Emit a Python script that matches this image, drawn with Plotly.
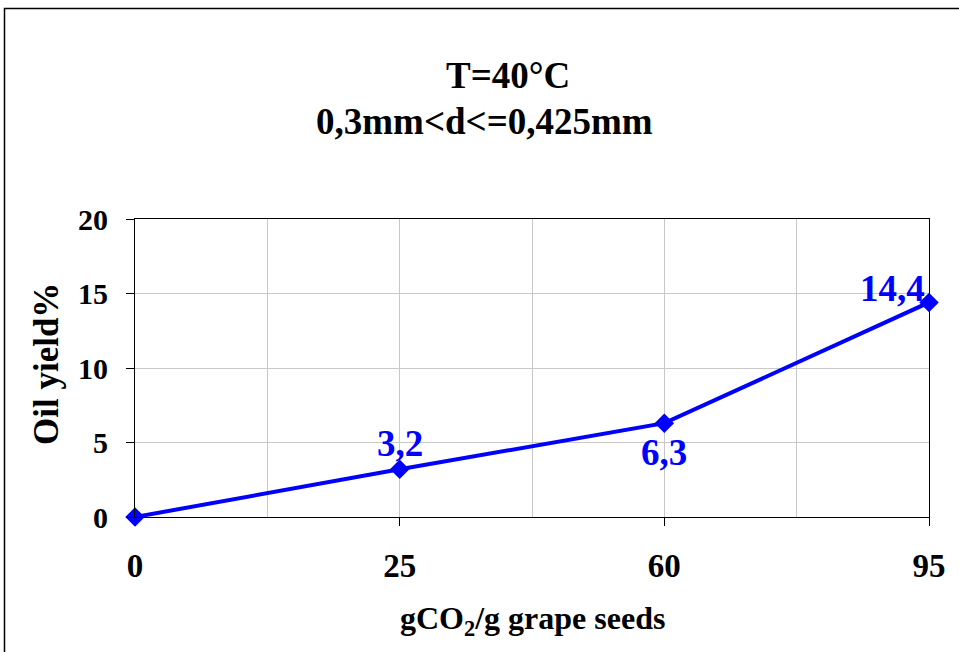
import plotly.graph_objects as go

categories = ["0", "25", "60", "95"]
oil_yield = [0, 3.2, 6.3, 14.4]
y_ticks = [0, 5, 10, 15, 20]

title_line1 = "T=40°C"
title_line2 = "0,3mm&lt;d&lt;=0,425mm"
x_title = "gCO<sub>2</sub>/g grape seeds"
y_title = "Oil yield%"

FONT = "Liberation Serif, Times New Roman, serif"
BLUE = "#0000FF"

x_pos = list(range(len(categories)))

fig = go.Figure()
fig.add_trace(go.Scatter(
    x=x_pos, y=oil_yield, mode="lines+markers",
    line=dict(color=BLUE, width=4),
    marker=dict(symbol="diamond", size=15, color=BLUE),
    showlegend=False, hoverinfo="skip", cliponaxis=False,
))

# data labels (position offsets in pixels)
label_offsets = [None, (0, 26), (0, -29), (-37, 14)]
for xi, yv, off in zip(x_pos, oil_yield, label_offsets):
    if off is None:
        continue
    fig.add_annotation(
        x=xi, y=yv, xref="x", yref="y", xanchor="center", yanchor="middle",
        text="<b>" + f"{yv:.1f}".replace(".", ",") + "</b>",
        showarrow=False, xshift=off[0], yshift=off[1],
        font=dict(family=FONT, size=37, color=BLUE),
    )

def px_x(p):
    return (p - 135) / 794

def px_y(p):
    return (517 - p) / 298

# titles
fig.add_annotation(x=px_x(508), y=px_y(75), xref="paper", yref="paper",
                   xanchor="center", yanchor="middle",
                   text="<b>" + title_line1 + "</b>", showarrow=False,
                   font=dict(family=FONT, size=37, color="black"))
fig.add_annotation(x=px_x(484), y=px_y(122), xref="paper", yref="paper",
                   xanchor="center", yanchor="middle",
                   text="<b>" + title_line2 + "</b>", showarrow=False,
                   font=dict(family=FONT, size=37, color="black"))
fig.add_annotation(x=0.5, y=px_y(620), xref="paper", yref="paper",
                   xanchor="center", yanchor="middle",
                   text="<b>" + x_title + "</b>", showarrow=False,
                   font=dict(family=FONT, size=32, color="black"))
fig.add_annotation(x=px_x(46), y=px_y(364), xref="paper", yref="paper",
                   xanchor="center", yanchor="middle",
                   text="<b>" + y_title + "</b>", showarrow=False, textangle=-90,
                   font=dict(family=FONT, size=35, color="black"))

# outer chart border
fig.add_shape(type="rect", xref="paper", yref="paper",
              x0=px_x(4.5), x1=1.2, y0=-0.8, y1=px_y(8.5),
              line=dict(color="black", width=1.5), layer="below")

fig.update_layout(
    width=959, height=652,
    margin=dict(l=135, r=30, t=219, b=135),
    paper_bgcolor="white", plot_bgcolor="white",
    xaxis=dict(
        range=[0, len(categories) - 1],
        tickmode="array", tickvals=x_pos, ticktext=categories,
        ticks="outside", ticklen=8, tickcolor="black", tickwidth=1,
        showline=True, linecolor="black", linewidth=1, mirror=True,
        showgrid=True, gridcolor="#c8c8c8", gridwidth=1,
        minor=dict(tickvals=[p + 0.5 for p in x_pos[:-1]], showgrid=True,
                   gridcolor="#c8c8c8", gridwidth=1, ticks=""),
        tickfont=dict(family=FONT, size=33, color="black", weight="bold"),
        ticklabelstandoff=11, zeroline=False, fixedrange=True,
    ),
    yaxis=dict(
        range=[0, 20], tickmode="array", tickvals=y_ticks,
        ticks="outside", ticklen=8, tickcolor="black", tickwidth=1,
        showline=True, linecolor="black", linewidth=1, mirror=True,
        showgrid=True, gridcolor="#c8c8c8", gridwidth=1,
        tickfont=dict(family=FONT, size=30, color="black", weight="bold"),
        ticklabelstandoff=12, zeroline=False, fixedrange=True,
    ),
)

fig.write_html("out.html")
